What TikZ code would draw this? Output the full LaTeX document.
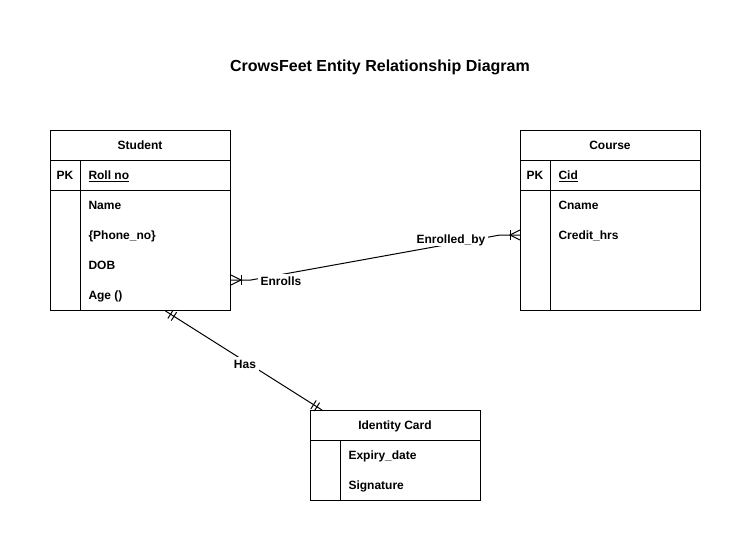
\documentclass[tikz,border=0pt]{standalone}
\usepackage{fontspec}
\setmainfont{Liberation Sans}
\usetikzlibrary{calc}
\newcommand{\erbar}[3]{%
  \path ($(#1)!#3!(#2)$) coordinate (tmpb);
  \draw ($(tmpb)!3.75pt!90:(#2)$) -- ($(tmpb)!3.75pt!-90:(#2)$);}
\newcommand{\erfoot}[2]{%
  \path ($(#1)!7.5pt!(#2)$) coordinate (tmpc);
  \draw ($(#1)!3.75pt!90:(#2)$) -- (tmpc) -- ($(#1)!3.75pt!-90:(#2)$);
  \erbar{#1}{#2}{7.5pt}}
\begin{document}
\begin{tikzpicture}[x=0.75pt,y=-0.75pt,line width=0.75pt,
  tbl/.style={draw,anchor=north west,inner sep=0pt},
  lbl/.style={font=\fontsize{9}{11}\selectfont\bfseries,inner sep=0pt,text height=6.45pt,text depth=0pt},
  attr/.style={lbl,anchor=west},
  rel/.style={lbl,fill=white,inner sep=2pt}]
\useasboundingbox (0,0) rectangle (751,551);
\fill[white] (0,0) rectangle (751,551);

\node[lbl,font=\fontsize{12}{14}\selectfont\bfseries,text height=8.6pt] (title) at (380,66) {CrowsFeet Entity Relationship Diagram};

% Student
\node[tbl,minimum width=135pt,minimum height=135pt] (student) at (50,130) {};
\draw (50,160) -- (230,160);
\draw (50,190) -- (230,190);
\draw (80,160) -- (80,310);
\node[lbl] (s-title) at (140,145) {Student};
\node[lbl] (s-pk) at (65,175) {PK};
\node[attr] (s-roll) at (88,175) {\underline{Roll no}};
\node[attr] (s-name) at (88,205) {Name};
\node[attr] (s-phone) at (88,235) {\{Phone\_no\}};
\node[attr] (s-dob) at (88,265) {DOB};
\node[attr] (s-age) at (88,295) {Age ()};

% Course
\node[tbl,minimum width=135pt,minimum height=135pt] (course) at (520,130) {};
\draw (520,160) -- (700,160);
\draw (520,190) -- (700,190);
\draw (550,160) -- (550,310);
\node[lbl] (c-title) at (610,145) {Course};
\node[lbl] (c-pk) at (535,175) {PK};
\node[attr] (c-cid) at (558,175) {\underline{Cid}};
\node[attr] (c-cname) at (558,205) {Cname};
\node[attr] (c-credit) at (558,235) {Credit\_hrs};

% Identity Card
\node[tbl,minimum width=127.5pt,minimum height=67.5pt] (idcard) at (310,410) {};
\draw (310,440) -- (480,440);
\draw (340,440) -- (340,500);
\node[lbl] (i-title) at (395,425) {Identity Card};
\node[attr] (i-exp) at (348,455) {Expiry\_date};
\node[attr] (i-sig) at (348,485) {Signature};

% Enrolls relationship
\coordinate (e1) at ($(student.north east)+(0,150)$);
\coordinate (e2) at ($(course.north west)+(0,105)$);
\coordinate (e1b) at ($(e1)+(20,0)$);
\coordinate (e2b) at ($(e2)+(-20,0)$);
\draw (e1) -- (e1b) -- (e2b) -- (e2);
\erfoot{e1}{e1b}
\erfoot{e2}{e2b}
\node[rel] (enrolls) at (281,281) {Enrolls};
\node[rel] (enrolledby) at (451,239) {Enrolled\_by};

% Has relationship
\coordinate (h1) at ($(student.south)+(25,0)$);
\coordinate (h2) at ($(idcard.north west)+(12,0)$);
\draw (h1) -- (h2);
\erbar{h1}{h2}{4.5pt}
\erbar{h1}{h2}{7.5pt}
\erbar{h2}{h1}{4.5pt}
\erbar{h2}{h1}{7.5pt}
\node[rel] (has) at (245,364) {Has};
\end{tikzpicture}
\end{document}
